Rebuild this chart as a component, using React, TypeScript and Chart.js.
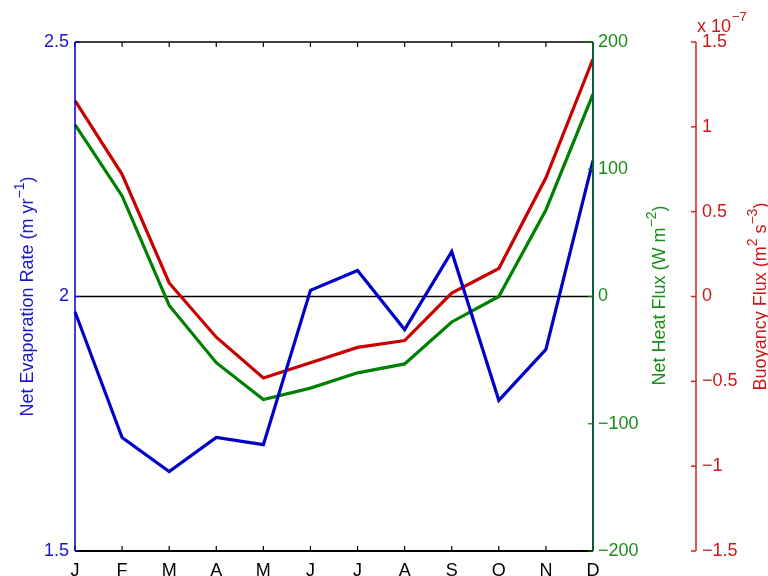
import React, { useEffect, useRef } from 'react';
import { Chart, registerables } from 'chart.js';

Chart.register(...registerables);

const months = ['J', 'F', 'M', 'A', 'M', 'J', 'J', 'A', 'S', 'O', 'N', 'D'];
const evaporationRate = [1.97, 1.723, 1.656, 1.723, 1.709, 2.012, 2.051, 1.935, 2.088, 1.796, 1.896, 2.267];
const netHeatFlux = [135, 79, -7, -52, -81, -72, -60, -53, -20, 0, 68, 159];
const buoyancyFluxE7 = [1.155, 0.72, 0.08, -0.24, -0.48, -0.39, -0.3, -0.26, 0.02, 0.165, 0.7, 1.4];

const evapRange = [1.5, 2.5, 0.5];
const heatRange = [-200, 200, 100];
const buoyRange = [-1.5, 1.5, 0.5];

const FONT = "'Liberation Sans', Arial, Helvetica, sans-serif";
const BLUE = '#0000c8';
const GREEN = '#008000';
const RED = '#c80000';
const BLUE_TXT = '#1818c8';
const GREEN_TXT = '#1a8c1a';
const RED_TXT = '#cc1818';

type Seg = { t: string; sup?: boolean };

function drawRich(ctx: CanvasRenderingContext2D, segs: Seg[], cx: number, cy: number, rot: number, size: number, color: string) {
  ctx.save();
  ctx.translate(cx, cy);
  ctx.rotate(rot);
  ctx.fillStyle = color;
  ctx.textBaseline = 'alphabetic';
  const supSize = Math.round(size * 0.75);
  let total = 0;
  const widths: number[] = [];
  for (const s of segs) {
    ctx.font = `${s.sup ? supSize : size}px ${FONT}`;
    const w = ctx.measureText(s.t).width;
    widths.push(w);
    total += w;
  }
  let x = -total / 2;
  const base = size * 0.36;
  segs.forEach((s, i) => {
    ctx.font = `${s.sup ? supSize : size}px ${FONT}`;
    ctx.fillText(s.t, x, s.sup ? base - size * 0.5 : base);
    x += widths[i];
  });
  ctx.restore();
}

function fmt(v: number) {
  const r = Math.round(v * 100) / 100;
  return String(r).replace('-', '\u2212');
}

const axesPlugin = {
  id: 'customAxes',
  beforeDatasetsDraw(chart: any) {
    const { ctx, chartArea } = chart;
    const y0 = chart.scales.yHeat.getPixelForValue(0);
    ctx.save();
    ctx.strokeStyle = '#000';
    ctx.lineWidth = 1.5;
    ctx.beginPath();
    ctx.moveTo(chartArea.left, y0);
    ctx.lineTo(chartArea.right, y0);
    ctx.stroke();
    ctx.restore();
  },
  afterDraw(chart: any) {
    const { ctx, chartArea } = chart;
    const { left, right, top, bottom } = chartArea;
    const x = chart.scales.x;
    const yE = chart.scales.yEvap;
    const yH = chart.scales.yHeat;
    const yB = chart.scales.yBuoy;
    const line = (x1: number, y1: number, x2: number, y2: number, c: string, w: number) => {
      ctx.save();
      ctx.strokeStyle = c;
      ctx.lineWidth = w;
      ctx.beginPath();
      ctx.moveTo(x1, y1);
      ctx.lineTo(x2, y2);
      ctx.stroke();
      ctx.restore();
    };
    for (let i = 0; i < months.length; i++) {
      const px = x.getPixelForValue(i);
      line(px, top, px, top + 5, '#000', 1.2);
      line(px, bottom, px, bottom - 5, '#000', 1.2);
    }
    line(left, top, right, top, '#000', 1.5);
    line(left, bottom, right, bottom, '#000', 2);
    line(left, top, left, bottom, BLUE, 1.5);
    line(right, top, right, bottom, '#0b5a3c', 2);
    for (let v = evapRange[0]; v <= evapRange[1] + 1e-9; v += evapRange[2]) {
      const py = yE.getPixelForValue(v);
      line(left, py, left + 5, py, BLUE, 1.2);
    }
    for (let v = heatRange[0]; v <= heatRange[1] + 1e-9; v += heatRange[2]) {
      const py = yH.getPixelForValue(v);
      line(right, py, right - 5, py, GREEN, 1.2);
    }
    const rx = yB.left;
    line(rx, top, rx, bottom, '#d42020', 1.5);
    for (let v = buoyRange[0]; v <= buoyRange[1] + 1e-9; v += buoyRange[2]) {
      const py = yB.getPixelForValue(v);
      line(rx, py, rx - 5, py, '#d42020', 1.5);
    }
    const cy = (top + bottom) / 2;
    drawRich(ctx, [{ t: 'Net Evaporation Rate (m yr' }, { t: '\u22121', sup: true }, { t: ')' }], 27, cy, -Math.PI / 2, 18, BLUE_TXT);
    drawRich(ctx, [{ t: 'Net Heat Flux (W m' }, { t: '\u22122', sup: true }, { t: ')' }], right + 66, cy - 1, -Math.PI / 2, 18, GREEN_TXT);
    drawRich(ctx, [{ t: 'Buoyancy Flux (m' }, { t: '2', sup: true }, { t: ' s' }, { t: '\u22123', sup: true }, { t: ')' }], chart.width - 8, cy, -Math.PI / 2, 18, RED_TXT);
    ctx.save();
    ctx.fillStyle = RED_TXT;
    ctx.textBaseline = 'alphabetic';
    ctx.font = `18px ${FONT}`;
    ctx.fillText('x 10', rx + 1, 32);
    const w = ctx.measureText('x 10').width;
    ctx.font = `13px ${FONT}`;
    ctx.fillText('\u22127', rx + 2 + w, 21);
    ctx.restore();
  },
};

export default function App() {
  const ref = useRef<HTMLCanvasElement | null>(null);
  useEffect(() => {
    if (!ref.current) return;
    const tickFont = { family: FONT, size: 18 };
    const chart = new Chart(ref.current, {
      type: 'line',
      data: {
        labels: months,
        datasets: [
          { label: 'Net Evaporation Rate', data: evaporationRate, yAxisID: 'yEvap', borderColor: BLUE, borderWidth: 3.2, pointRadius: 0, tension: 0, fill: false },
          { label: 'Net Heat Flux', data: netHeatFlux, yAxisID: 'yHeat', borderColor: GREEN, borderWidth: 3.2, pointRadius: 0, tension: 0, fill: false },
          { label: 'Buoyancy Flux', data: buoyancyFluxE7, yAxisID: 'yBuoy', borderColor: RED, borderWidth: 3.2, pointRadius: 0, tension: 0, fill: false },
        ],
      },
      options: {
        responsive: false,
        animation: false,
        layout: { padding: { top: 42, left: 0, right: 0, bottom: 0 } },
        plugins: { legend: { display: false }, tooltip: { enabled: false } },
        scales: {
          x: {
            type: 'category',
            position: 'bottom',
            grid: { display: false, drawTicks: false },
            border: { display: false },
            ticks: { color: '#000', font: tickFont, padding: 9, autoSkip: false, maxRotation: 0 },
            afterFit: (s: any) => { s.height = 25; },
          },
          yEvap: {
            type: 'linear',
            position: 'left',
            min: evapRange[0],
            max: evapRange[1],
            grid: { display: false, drawTicks: false },
            border: { display: false },
            ticks: { stepSize: evapRange[2], color: BLUE_TXT, font: tickFont, padding: 6, callback: (v: any) => fmt(Number(v)) },
            afterFit: (s: any) => { s.width = 75; },
          },
          yHeat: {
            type: 'linear',
            position: 'right',
            min: heatRange[0],
            max: heatRange[1],
            grid: { display: false, drawTicks: false },
            border: { display: false },
            ticks: { stepSize: heatRange[2], color: GREEN_TXT, font: tickFont, padding: 5, callback: (v: any) => fmt(Number(v)) },
            afterFit: (s: any) => { s.width = 103; },
          },
          yBuoy: {
            type: 'linear',
            position: 'right',
            min: buoyRange[0],
            max: buoyRange[1],
            grid: { display: false, drawTicks: false },
            border: { display: false },
            ticks: { stepSize: buoyRange[2], color: RED_TXT, font: tickFont, padding: 6, callback: (v: any) => fmt(Number(v)) },
            afterFit: (s: any) => { s.width = 72; },
          },
        },
      },
      plugins: [axesPlugin],
    } as any);
    return () => chart.destroy();
  }, []);
  return (
    <div style={{ position: 'absolute', left: 0, top: 0, width: 768, height: 576, background: '#fff' }}>
      <canvas ref={ref} width={768} height={576} />
    </div>
  );
}
